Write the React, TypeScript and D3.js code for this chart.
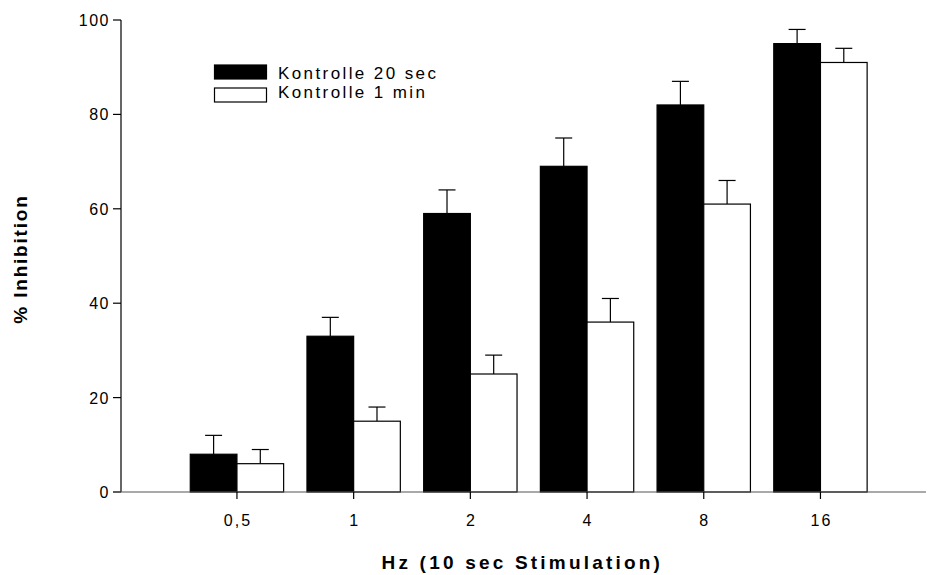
import React from "react";
import * as d3 from "d3";

// Stimulation frequencies (Hz) on the category axis
const categories = ["0,5", "1", "2", "4", "8", "16"];
// % inhibition, 20 s control, with upward SEM bars
const kontrolle20sec = [8, 33, 59, 69, 82, 95];
const kontrolle20secErr = [4, 4, 5, 6, 5, 3];
// % inhibition, 1 min control, with upward SEM bars
const kontrolle1min = [6, 15, 25, 36, 61, 91];
const kontrolle1minErr = [3, 3, 4, 5, 5, 3];
const yTicks = [0, 20, 40, 60, 80, 100];

const seriesNames = ["Kontrolle 20 sec", "Kontrolle 1 min"];

const W = 927;
const H = 575;
const FONT = "'Liberation Sans', Arial, sans-serif";

export default function App() {
  const axisX = 121;
  const axisY0 = 492;
  const axisTop = 20;

  const y = d3.scaleLinear().domain([0, 100]).range([axisY0, axisTop]);
  const x = d3
    .scaleBand<string>()
    .domain(categories)
    .range([178.6, 878.8])
    .paddingInner(0)
    .paddingOuter(0);
  const sub = d3
    .scaleBand<number>()
    .domain([0, 1])
    .range([0, x.bandwidth()])
    .paddingOuter(0.25)
    .paddingInner(0);

  const series = [
    { values: kontrolle20sec, errs: kontrolle20secErr, fill: "#000" },
    { values: kontrolle1min, errs: kontrolle1minErr, fill: "#fff" },
  ];

  const capHalf = 8.5;

  return (
    <svg
      width={W}
      height={H}
      style={{ position: "absolute", left: 0, top: 0, background: "#fff" }}
      fontFamily={FONT}
    >
      {/* bars */}
      {series.map((s, si) =>
        categories.map((c, i) => {
          const x0 = (x(c) ?? 0) + (sub(si) ?? 0);
          const bw = sub.bandwidth();
          const top = y(s.values[i]);
          const cx = x0 + bw / 2;
          const errTop = y(s.values[i] + s.errs[i]);
          return (
            <g key={`${si}-${i}`}>
              <line x1={cx} x2={cx} y1={top} y2={errTop} stroke="#000" strokeWidth={1.2} />
              <line
                x1={cx - capHalf}
                x2={cx + capHalf}
                y1={errTop}
                y2={errTop}
                stroke="#000"
                strokeWidth={1.2}
              />
              <rect
                x={x0}
                y={top}
                width={bw}
                height={axisY0 - top}
                fill={s.fill}
                stroke="#000"
                strokeWidth={1.2}
              />
            </g>
          );
        })
      )}

      {/* y axis */}
      <line x1={axisX} x2={axisX} y1={axisTop} y2={axisY0} stroke="#000" strokeWidth={1.2} />
      {yTicks.map((t) => (
        <g key={t}>
          <line x1={axisX - 8} x2={axisX} y1={y(t)} y2={y(t)} stroke="#000" strokeWidth={1.2} />
          <text
            x={110}
            y={y(t) + 6}
            textAnchor="end"
            fontSize={16}
            letterSpacing={1.5}
          >
            {t}
          </text>
        </g>
      ))}

      {/* x axis */}
      <line x1={axisX - 8} x2={926} y1={axisY0} y2={axisY0} stroke="#555" strokeWidth={1.2} />
      {categories.map((c) => {
        const cx = (x(c) ?? 0) + x.bandwidth() / 2;
        return (
          <g key={c}>
            <line x1={cx} x2={cx} y1={axisY0} y2={axisY0 + 7} stroke="#000" strokeWidth={1.2} />
            <text x={cx + 1} y={526} textAnchor="middle" fontSize={16} letterSpacing={2}>
              {c}
            </text>
          </g>
        );
      })}

      {/* legend */}
      {seriesNames.map((name, i) => (
        <g key={name}>
          <rect
            x={214.5}
            y={65 + i * 23}
            width={52}
            height={14}
            fill={series[i].fill}
            stroke="#000"
            strokeWidth={1.2}
          />
          <text x={278} y={79 + i * 19} fontSize={17} letterSpacing={2.4}>
            {name}
          </text>
        </g>
      ))}

      {/* axis titles */}
      <text
        x={381.5}
        y={569}
        fontSize={19}
        fontWeight="bold"
        letterSpacing={3.2}
      >
        Hz (10 sec Stimulation)
      </text>
      <text
        transform={`translate(27, 259) rotate(-90)`}
        textAnchor="middle"
        fontSize={19}
        fontWeight="bold"
        letterSpacing={1.8}
      >
        % Inhibition
      </text>
    </svg>
  );
}
